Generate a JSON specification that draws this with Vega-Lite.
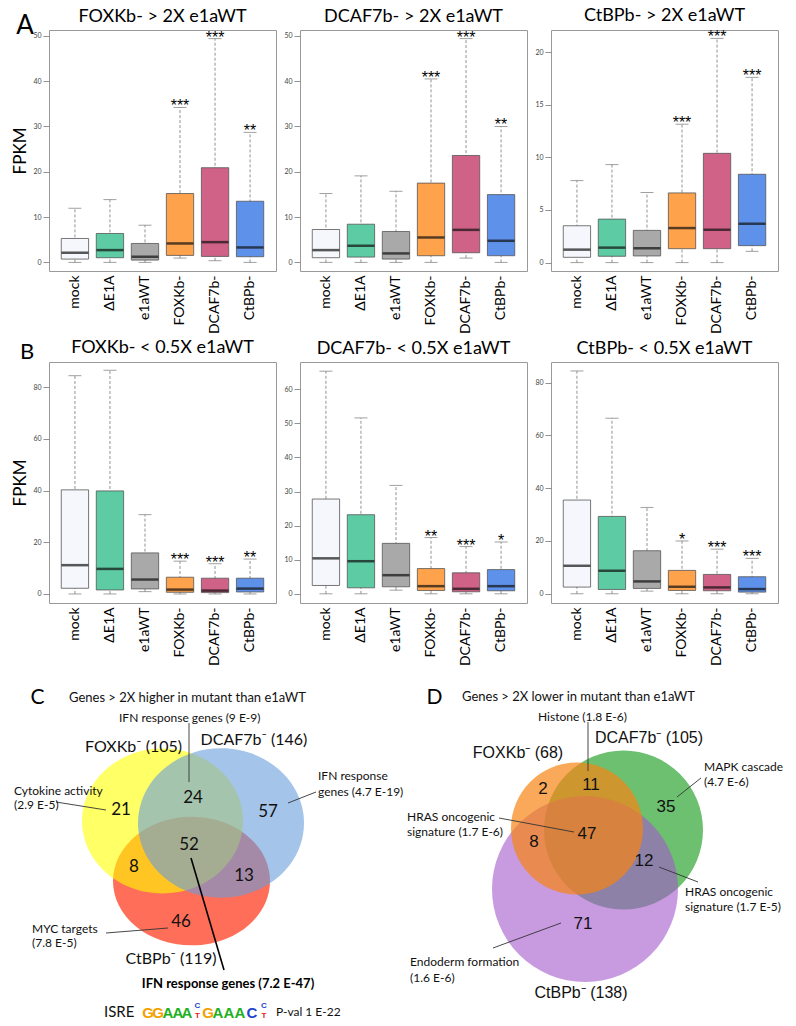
{
  "padding": {"left": 11, "top": 6, "right": 0, "bottom": 0},
  "spacing": 10,
  "config": {
    "font": "Lato",
    "view": {"stroke": "#999", "strokeWidth": 1},
    "title": {"font": "Lato", "fontSize": 18, "fontWeight": "normal", "color": "#000", "offset": 4},
    "axis": {"labelFont": "Lato", "titleFont": "Lato"},
    "text": {"font": "Lato"}
  },
  "datasets": {
    "box": [
      {"panel": "A1", "group": "mock", "lower": 0, "q1": 0.73, "median": 2.13, "q3": 5.28, "upper": 11.95, "sig": ""},
      {"panel": "A1", "group": "ΔE1A", "lower": 0, "q1": 1.03, "median": 2.71, "q3": 6.38, "upper": 13.86, "sig": ""},
      {"panel": "A1", "group": "e1aWT", "lower": 0, "q1": 0.51, "median": 1.25, "q3": 4.18, "upper": 8.21, "sig": ""},
      {"panel": "A1", "group": "FOXKb-", "lower": 0.95, "q1": 1.54, "median": 4.18, "q3": 15.2, "upper": 34.2, "sig": "***"},
      {"panel": "A1", "group": "DCAF7b-", "lower": 0.37, "q1": 1.32, "median": 4.47, "q3": 20.9, "upper": 49.4, "sig": "***"},
      {"panel": "A1", "group": "CtBPb-", "lower": 0, "q1": 1.25, "median": 3.3, "q3": 13.5, "upper": 28.7, "sig": "**"},
      {"panel": "A2", "group": "mock", "lower": 0, "q1": 1.03, "median": 2.71, "q3": 7.26, "upper": 15.2, "sig": ""},
      {"panel": "A2", "group": "ΔE1A", "lower": 0, "q1": 1.17, "median": 3.67, "q3": 8.43, "upper": 19.1, "sig": ""},
      {"panel": "A2", "group": "e1aWT", "lower": 0, "q1": 0.73, "median": 1.98, "q3": 6.82, "upper": 15.7, "sig": ""},
      {"panel": "A2", "group": "FOXKb-", "lower": 0, "q1": 1.47, "median": 5.5, "q3": 17.5, "upper": 40.5, "sig": "***"},
      {"panel": "A2", "group": "DCAF7b-", "lower": 0.95, "q1": 2.13, "median": 7.18, "q3": 23.6, "upper": 49.4, "sig": "***"},
      {"panel": "A2", "group": "CtBPb-", "lower": 0, "q1": 1.47, "median": 4.77, "q3": 14.96, "upper": 30.0, "sig": "**"},
      {"panel": "A3", "group": "mock", "lower": 0, "q1": 0.5, "median": 1.23, "q3": 3.5, "upper": 7.79, "sig": ""},
      {"panel": "A3", "group": "ΔE1A", "lower": 0, "q1": 0.6, "median": 1.42, "q3": 4.13, "upper": 9.31, "sig": ""},
      {"panel": "A3", "group": "e1aWT", "lower": 0, "q1": 0.63, "median": 1.36, "q3": 3.06, "upper": 6.66, "sig": ""},
      {"panel": "A3", "group": "FOXKb-", "lower": 0, "q1": 1.32, "median": 3.28, "q3": 6.62, "upper": 13.15, "sig": "***"},
      {"panel": "A3", "group": "DCAF7b-", "lower": 0, "q1": 1.32, "median": 3.12, "q3": 10.38, "upper": 21.3, "sig": "***"},
      {"panel": "A3", "group": "CtBPb-", "lower": 1.07, "q1": 1.61, "median": 3.69, "q3": 8.39, "upper": 17.6, "sig": "***"},
      {"panel": "B1", "group": "mock", "lower": 0, "q1": 2.2, "median": 11.15, "q3": 40.3, "upper": 84.5, "sig": ""},
      {"panel": "B1", "group": "ΔE1A", "lower": 0, "q1": 1.56, "median": 9.7, "q3": 39.9, "upper": 86.6, "sig": ""},
      {"panel": "B1", "group": "e1aWT", "lower": 0.9, "q1": 1.95, "median": 5.58, "q3": 15.9, "upper": 30.7, "sig": ""},
      {"panel": "B1", "group": "FOXKb-", "lower": 0, "q1": 0.65, "median": 1.69, "q3": 6.48, "upper": 12.7, "sig": "***"},
      {"panel": "B1", "group": "DCAF7b-", "lower": 0, "q1": 0.52, "median": 1.3, "q3": 6.1, "upper": 11.7, "sig": "***"},
      {"panel": "B1", "group": "CtBPb-", "lower": 0, "q1": 0.78, "median": 2.07, "q3": 6.1, "upper": 13.5, "sig": "**"},
      {"panel": "B2", "group": "mock", "lower": 0, "q1": 2.44, "median": 10.4, "q3": 27.8, "upper": 65.3, "sig": ""},
      {"panel": "B2", "group": "ΔE1A", "lower": 0, "q1": 1.76, "median": 9.56, "q3": 23.2, "upper": 51.6, "sig": ""},
      {"panel": "B2", "group": "e1aWT", "lower": 1.07, "q1": 2.05, "median": 5.46, "q3": 14.8, "upper": 31.8, "sig": ""},
      {"panel": "B2", "group": "FOXKb-", "lower": 0, "q1": 0.98, "median": 2.24, "q3": 7.4, "upper": 16.5, "sig": "**"},
      {"panel": "B2", "group": "DCAF7b-", "lower": 0, "q1": 0.59, "median": 1.46, "q3": 6.15, "upper": 13.85, "sig": "***"},
      {"panel": "B2", "group": "CtBPb-", "lower": 0, "q1": 0.88, "median": 2.24, "q3": 7.1, "upper": 15.2, "sig": "*"},
      {"panel": "B3", "group": "mock", "lower": 0, "q1": 2.53, "median": 10.6, "q3": 35.5, "upper": 84.4, "sig": ""},
      {"panel": "B3", "group": "ΔE1A", "lower": 0, "q1": 1.64, "median": 8.72, "q3": 29.3, "upper": 66.5, "sig": ""},
      {"panel": "B3", "group": "e1aWT", "lower": 1.01, "q1": 2.02, "median": 4.68, "q3": 16.3, "upper": 32.7, "sig": ""},
      {"panel": "B3", "group": "FOXKb-", "lower": 0, "q1": 1.26, "median": 2.65, "q3": 8.85, "upper": 20.0, "sig": "*"},
      {"panel": "B3", "group": "DCAF7b-", "lower": 0, "q1": 1.14, "median": 2.4, "q3": 7.33, "upper": 16.9, "sig": "***"},
      {"panel": "B3", "group": "CtBPb-", "lower": 0, "q1": 0.63, "median": 1.77, "q3": 6.45, "upper": 13.4, "sig": "***"}
    ]
  },
  "vconcat": [
    {
      "columns": 3,
      "bounds": "flush",
      "spacing": {"row": 91, "column": 24},
      "concat": [
        {
          "width": 227, "height": 241,
          "title": {"text": "FOXKb- > 2X e1aWT", "offset": -13},
          "data": {"name": "box"},
          "transform": [{"filter": "datum.panel === 'A1'"}],
          "encoding": {"x": {"field": "group", "type": "nominal", "sort": ["mock", "ΔE1A", "e1aWT", "FOXKb-", "DCAF7b-", "CtBPb-"], "scale": {"paddingInner": 0.22, "paddingOuter": 0.35}, "axis": {"title": null, "labelAngle": -90, "ticks": false, "domain": false, "labelFontSize": 14, "labelColor": "#000", "labelPadding": 4}}},
          "layer": [
            {"mark": {"type": "rule", "color": "#777", "strokeWidth": 0.8, "strokeDash": [3, 2]}, "encoding": {"y": {"field": "lower", "type": "quantitative", "scale": {"domain": [-1.9, 51.3], "nice": false, "zero": false}, "axis": {"title": "FPKM", "values": [0, 10, 20, 30, 40, 50], "domain": false, "grid": false, "tickSize": 6, "tickColor": "#777", "tickWidth": 0.8, "labelFontSize": 7, "labelColor": "#444", "labelPadding": 2, "titleFontSize": 17, "titleFontWeight": "normal", "titleColor": "#000", "titlePadding": 3}}, "y2": {"field": "upper"}}},
            {"mark": {"type": "tick", "color": "#777", "thickness": 1, "size": 13}, "encoding": {"y": {"field": "upper", "type": "quantitative"}}},
            {"mark": {"type": "tick", "color": "#777", "thickness": 1, "size": 13}, "encoding": {"y": {"field": "lower", "type": "quantitative"}}},
            {"mark": {"type": "bar", "stroke": "#555", "strokeWidth": 0.8}, "encoding": {"y": {"field": "q1", "type": "quantitative"}, "y2": {"field": "q3"}, "fill": {"field": "group", "type": "nominal", "scale": {"domain": ["mock", "ΔE1A", "e1aWT", "FOXKb-", "DCAF7b-", "CtBPb-"], "range": ["#f5f7fd", "#5dcba4", "#a9a9a9", "#ffa24c", "#d06287", "#5e91ea"]}, "legend": null}}},
            {"mark": {"type": "tick", "color": "#111", "thickness": 2.5, "size": 27}, "encoding": {"y": {"field": "median", "type": "quantitative"}}},
            {"mark": {"type": "text", "font": "Liberation Sans", "fontSize": 16, "baseline": "alphabetic", "dy": 4}, "encoding": {"y": {"field": "upper", "type": "quantitative"}, "text": {"field": "sig"}}},
            {"data": {"values": [{"t": "A"}]}, "mark": {"type": "text", "fontSize": 26, "baseline": "alphabetic", "align": "center"}, "encoding": {"x": {"value": -24}, "y": {"value": 4}, "text": {"field": "t"}}},
            {"data": {"values": [{"t": "B"}]}, "mark": {"type": "text", "fontSize": 22, "baseline": "alphabetic", "align": "center"}, "encoding": {"x": {"value": -22}, "y": {"value": 329}, "text": {"field": "t"}}}
          ]
        },
        {
          "width": 227, "height": 241,
          "title": "DCAF7b- > 2X e1aWT",
          "data": {"name": "box"},
          "transform": [{"filter": "datum.panel === 'A2'"}],
          "encoding": {"x": {"field": "group", "type": "nominal", "sort": ["mock", "ΔE1A", "e1aWT", "FOXKb-", "DCAF7b-", "CtBPb-"], "scale": {"paddingInner": 0.22, "paddingOuter": 0.35}, "axis": {"title": null, "labelAngle": -90, "ticks": false, "domain": false, "labelFontSize": 14, "labelColor": "#000", "labelPadding": 4}}},
          "layer": [
            {"mark": {"type": "rule", "color": "#777", "strokeWidth": 0.8, "strokeDash": [3, 2]}, "encoding": {"y": {"field": "lower", "type": "quantitative", "scale": {"domain": [-1.9, 51.3], "nice": false, "zero": false}, "axis": {"title": null, "values": [0, 10, 20, 30, 40, 50], "domain": false, "grid": false, "tickSize": 6, "tickColor": "#777", "tickWidth": 0.8, "labelFontSize": 7, "labelColor": "#444", "labelPadding": 2}}, "y2": {"field": "upper"}}},
            {"mark": {"type": "tick", "color": "#777", "thickness": 1, "size": 13}, "encoding": {"y": {"field": "upper", "type": "quantitative"}}},
            {"mark": {"type": "tick", "color": "#777", "thickness": 1, "size": 13}, "encoding": {"y": {"field": "lower", "type": "quantitative"}}},
            {"mark": {"type": "bar", "stroke": "#555", "strokeWidth": 0.8}, "encoding": {"y": {"field": "q1", "type": "quantitative"}, "y2": {"field": "q3"}, "fill": {"field": "group", "type": "nominal", "legend": null}}},
            {"mark": {"type": "tick", "color": "#111", "thickness": 2.5, "size": 27}, "encoding": {"y": {"field": "median", "type": "quantitative"}}},
            {"mark": {"type": "text", "font": "Liberation Sans", "fontSize": 16, "baseline": "alphabetic", "dy": 4}, "encoding": {"y": {"field": "upper", "type": "quantitative"}, "text": {"field": "sig"}}}
          ]
        },
        {
          "width": 227, "height": 241,
          "title": "CtBPb- > 2X e1aWT",
          "data": {"name": "box"},
          "transform": [{"filter": "datum.panel === 'A3'"}],
          "encoding": {"x": {"field": "group", "type": "nominal", "sort": ["mock", "ΔE1A", "e1aWT", "FOXKb-", "DCAF7b-", "CtBPb-"], "scale": {"paddingInner": 0.22, "paddingOuter": 0.35}, "axis": {"title": null, "labelAngle": -90, "ticks": false, "domain": false, "labelFontSize": 14, "labelColor": "#000", "labelPadding": 4}}},
          "layer": [
            {"mark": {"type": "rule", "color": "#777", "strokeWidth": 0.8, "strokeDash": [3, 2]}, "encoding": {"y": {"field": "lower", "type": "quantitative", "scale": {"domain": [-0.8, 22.1], "nice": false, "zero": false}, "axis": {"title": null, "values": [0, 5, 10, 15, 20], "domain": false, "grid": false, "tickSize": 6, "tickColor": "#777", "tickWidth": 0.8, "labelFontSize": 7, "labelColor": "#444", "labelPadding": 2}}, "y2": {"field": "upper"}}},
            {"mark": {"type": "tick", "color": "#777", "thickness": 1, "size": 13}, "encoding": {"y": {"field": "upper", "type": "quantitative"}}},
            {"mark": {"type": "tick", "color": "#777", "thickness": 1, "size": 13}, "encoding": {"y": {"field": "lower", "type": "quantitative"}}},
            {"mark": {"type": "bar", "stroke": "#555", "strokeWidth": 0.8}, "encoding": {"y": {"field": "q1", "type": "quantitative"}, "y2": {"field": "q3"}, "fill": {"field": "group", "type": "nominal", "legend": null}}},
            {"mark": {"type": "tick", "color": "#111", "thickness": 2.5, "size": 27}, "encoding": {"y": {"field": "median", "type": "quantitative"}}},
            {"mark": {"type": "text", "font": "Liberation Sans", "fontSize": 16, "baseline": "alphabetic", "dy": 4}, "encoding": {"y": {"field": "upper", "type": "quantitative"}, "text": {"field": "sig"}}}
          ]
        },
        {
          "width": 227, "height": 241,
          "title": "FOXKb- < 0.5X e1aWT",
          "data": {"name": "box"},
          "transform": [{"filter": "datum.panel === 'B1'"}],
          "encoding": {"x": {"field": "group", "type": "nominal", "sort": ["mock", "ΔE1A", "e1aWT", "FOXKb-", "DCAF7b-", "CtBPb-"], "scale": {"paddingInner": 0.22, "paddingOuter": 0.35}, "axis": {"title": null, "labelAngle": -90, "ticks": false, "domain": false, "labelFontSize": 14, "labelColor": "#000", "labelPadding": 4}}},
          "layer": [
            {"mark": {"type": "rule", "color": "#777", "strokeWidth": 0.8, "strokeDash": [3, 2]}, "encoding": {"y": {"field": "lower", "type": "quantitative", "scale": {"domain": [-3.5, 89.8], "nice": false, "zero": false}, "axis": {"title": "FPKM", "values": [0, 20, 40, 60, 80], "domain": false, "grid": false, "tickSize": 6, "tickColor": "#777", "tickWidth": 0.8, "labelFontSize": 7, "labelColor": "#444", "labelPadding": 2, "titleFontSize": 17, "titleFontWeight": "normal", "titleColor": "#000", "titlePadding": 3}}, "y2": {"field": "upper"}}},
            {"mark": {"type": "tick", "color": "#777", "thickness": 1, "size": 13}, "encoding": {"y": {"field": "upper", "type": "quantitative"}}},
            {"mark": {"type": "tick", "color": "#777", "thickness": 1, "size": 13}, "encoding": {"y": {"field": "lower", "type": "quantitative"}}},
            {"mark": {"type": "bar", "stroke": "#555", "strokeWidth": 0.8}, "encoding": {"y": {"field": "q1", "type": "quantitative"}, "y2": {"field": "q3"}, "fill": {"field": "group", "type": "nominal", "legend": null}}},
            {"mark": {"type": "tick", "color": "#111", "thickness": 2.5, "size": 27}, "encoding": {"y": {"field": "median", "type": "quantitative"}}},
            {"mark": {"type": "text", "font": "Liberation Sans", "fontSize": 16, "baseline": "alphabetic", "dy": 4}, "encoding": {"y": {"field": "upper", "type": "quantitative"}, "text": {"field": "sig"}}}
          ]
        },
        {
          "width": 227, "height": 241,
          "title": "DCAF7b- < 0.5X e1aWT",
          "data": {"name": "box"},
          "transform": [{"filter": "datum.panel === 'B2'"}],
          "encoding": {"x": {"field": "group", "type": "nominal", "sort": ["mock", "ΔE1A", "e1aWT", "FOXKb-", "DCAF7b-", "CtBPb-"], "scale": {"paddingInner": 0.22, "paddingOuter": 0.35}, "axis": {"title": null, "labelAngle": -90, "ticks": false, "domain": false, "labelFontSize": 14, "labelColor": "#000", "labelPadding": 4}}},
          "layer": [
            {"mark": {"type": "rule", "color": "#777", "strokeWidth": 0.8, "strokeDash": [3, 2]}, "encoding": {"y": {"field": "lower", "type": "quantitative", "scale": {"domain": [-2.7, 68.0], "nice": false, "zero": false}, "axis": {"title": null, "values": [0, 10, 20, 30, 40, 50, 60], "domain": false, "grid": false, "tickSize": 6, "tickColor": "#777", "tickWidth": 0.8, "labelFontSize": 7, "labelColor": "#444", "labelPadding": 2}}, "y2": {"field": "upper"}}},
            {"mark": {"type": "tick", "color": "#777", "thickness": 1, "size": 13}, "encoding": {"y": {"field": "upper", "type": "quantitative"}}},
            {"mark": {"type": "tick", "color": "#777", "thickness": 1, "size": 13}, "encoding": {"y": {"field": "lower", "type": "quantitative"}}},
            {"mark": {"type": "bar", "stroke": "#555", "strokeWidth": 0.8}, "encoding": {"y": {"field": "q1", "type": "quantitative"}, "y2": {"field": "q3"}, "fill": {"field": "group", "type": "nominal", "legend": null}}},
            {"mark": {"type": "tick", "color": "#111", "thickness": 2.5, "size": 27}, "encoding": {"y": {"field": "median", "type": "quantitative"}}},
            {"mark": {"type": "text", "font": "Liberation Sans", "fontSize": 16, "baseline": "alphabetic", "dy": 4}, "encoding": {"y": {"field": "upper", "type": "quantitative"}, "text": {"field": "sig"}}}
          ]
        },
        {
          "width": 227, "height": 241,
          "title": "CtBPb- < 0.5X e1aWT",
          "data": {"name": "box"},
          "transform": [{"filter": "datum.panel === 'B3'"}],
          "encoding": {"x": {"field": "group", "type": "nominal", "sort": ["mock", "ΔE1A", "e1aWT", "FOXKb-", "DCAF7b-", "CtBPb-"], "scale": {"paddingInner": 0.22, "paddingOuter": 0.35}, "axis": {"title": null, "labelAngle": -90, "ticks": false, "domain": false, "labelFontSize": 14, "labelColor": "#000", "labelPadding": 4}}},
          "layer": [
            {"mark": {"type": "rule", "color": "#777", "strokeWidth": 0.8, "strokeDash": [3, 2]}, "encoding": {"y": {"field": "lower", "type": "quantitative", "scale": {"domain": [-3.5, 87.8], "nice": false, "zero": false}, "axis": {"title": null, "values": [0, 20, 40, 60, 80], "domain": false, "grid": false, "tickSize": 6, "tickColor": "#777", "tickWidth": 0.8, "labelFontSize": 7, "labelColor": "#444", "labelPadding": 2}}, "y2": {"field": "upper"}}},
            {"mark": {"type": "tick", "color": "#777", "thickness": 1, "size": 13}, "encoding": {"y": {"field": "upper", "type": "quantitative"}}},
            {"mark": {"type": "tick", "color": "#777", "thickness": 1, "size": 13}, "encoding": {"y": {"field": "lower", "type": "quantitative"}}},
            {"mark": {"type": "bar", "stroke": "#555", "strokeWidth": 0.8}, "encoding": {"y": {"field": "q1", "type": "quantitative"}, "y2": {"field": "q3"}, "fill": {"field": "group", "type": "nominal", "legend": null}}},
            {"mark": {"type": "tick", "color": "#111", "thickness": 2.5, "size": 27}, "encoding": {"y": {"field": "median", "type": "quantitative"}}},
            {"mark": {"type": "text", "font": "Liberation Sans", "fontSize": 16, "baseline": "alphabetic", "dy": 4}, "encoding": {"y": {"field": "upper", "type": "quantitative"}, "text": {"field": "sig"}}}
          ]
        }
      ]
    },
    {
      "bounds": "flush",
      "spacing": 0,
      "hconcat": [
        {
          "width": 352, "height": 354,
          "view": {"stroke": null},
          "encoding": {
            "x": {"field": "x", "type": "quantitative", "scale": {"domain": [48, 400], "nice": false, "zero": false}, "axis": null},
            "y": {"field": "y", "type": "quantitative", "scale": {"domain": [672, 1026], "nice": false, "zero": false, "reverse": true}, "axis": null}
          },
          "layer": [
            {"data": {"values": [{"set": "CtBPb-", "x": 190.5, "y": 876}]}, "mark": {"type": "point", "filled": true, "shape": "M 1 0 C 1 0.453 0.552 0.82 0 0.82 C -0.552 0.82 -1 0.453 -1 0 C -1 -0.453 -0.552 -0.82 0 -0.82 C 0.552 -0.82 1 -0.453 1 0 Z", "size": 24649, "color": "#ff6e58", "opacity": 1, "strokeWidth": 0}},
            {"data": {"values": [{"set": "FOXKb-", "x": 161.5, "y": 816}]}, "mark": {"type": "point", "filled": true, "shape": "M 1 0 C 1 0.497 0.552 0.9 0 0.9 C -0.552 0.9 -1 0.497 -1 0 C -1 -0.497 -0.552 -0.9 0 -0.9 C 0.552 -0.9 1 -0.497 1 0 Z", "size": 25921, "color": "#ffff00", "opacity": 0.6, "strokeWidth": 0}},
            {"data": {"values": [{"set": "DCAF7b-", "x": 220, "y": 818}]}, "mark": {"type": "point", "filled": true, "shape": "M 1 0 C 1 0.497 0.552 0.9 0 0.9 C -0.552 0.9 -1 0.497 -1 0 C -1 -0.497 -0.552 -0.9 0 -0.9 C 0.552 -0.9 1 -0.497 1 0 Z", "size": 27556, "color": "#679ddc", "opacity": 0.6, "strokeWidth": 0}},
            {"data": {"values": [
              {"x": 188, "y": 718, "x2": 188, "y2": 777},
              {"x": 55, "y": 797, "x2": 105, "y2": 805},
              {"x": 315, "y": 787, "x2": 287, "y2": 798},
              {"x": 105, "y": 928, "x2": 167, "y2": 923}
            ]}, "mark": {"type": "rule", "color": "#333", "strokeWidth": 0.9}, "encoding": {"x2": {"field": "x2"}, "y2": {"field": "y2"}}},
            {"data": {"values": [{"x": 190, "y": 853, "x2": 223, "y2": 965}]}, "mark": {"type": "rule", "color": "#000", "strokeWidth": 1.6}, "encoding": {"x2": {"field": "x2"}, "y2": {"field": "y2"}}},
            {"data": {"values": [
              {"n": "21", "x": 120, "y": 805}, {"n": "24", "x": 192, "y": 793}, {"n": "57", "x": 267, "y": 807},
              {"n": "52", "x": 188, "y": 840}, {"n": "8", "x": 133, "y": 862}, {"n": "13", "x": 243, "y": 871}, {"n": "46", "x": 180, "y": 917}
            ]}, "mark": {"type": "text", "fontSize": 17, "align": "center", "baseline": "middle", "color": "#111"}, "encoding": {"text": {"field": "n"}}},
            {"data": {"values": [
              {"t": "FOXKb⁻ (105)", "x": 132.5, "y": 742}, {"t": "DCAF7b⁻ (146)", "x": 253, "y": 735}, {"t": "CtBPb⁻ (119)", "x": 170, "y": 954}
            ]}, "mark": {"type": "text", "fontSize": 16, "align": "center", "baseline": "middle", "color": "#111"}, "encoding": {"text": {"field": "t"}}},
            {"data": {"values": [
              {"t": "IFN response genes (9 E-9)", "x": 118, "y": 713},
              {"t": "Cytokine activity", "x": 13, "y": 786},
              {"t": "(2.9 E-5)", "x": 13, "y": 800},
              {"t": "IFN response", "x": 317, "y": 771},
              {"t": "genes (4.7 E-19)", "x": 317, "y": 787},
              {"t": "MYC targets", "x": 31, "y": 924},
              {"t": "(7.8 E-5)", "x": 31, "y": 938},
              {"t": "P-val 1 E-22", "x": 275, "y": 1007}
            ]}, "mark": {"type": "text", "fontSize": 12, "align": "left", "baseline": "middle", "color": "#111"}, "encoding": {"text": {"field": "t"}}},
            {"data": {"values": [{"t": "Genes > 2X higher in mutant than e1aWT", "x": 68, "y": 693}]}, "mark": {"type": "text", "fontSize": 13, "align": "left", "baseline": "middle", "color": "#111"}, "encoding": {"text": {"field": "t"}}},
            {"data": {"values": [{"t": "C", "x": 36.5, "y": 693}]}, "mark": {"type": "text", "fontSize": 21, "align": "center", "baseline": "middle", "color": "#000"}, "encoding": {"text": {"field": "t"}}},
            {"data": {"values": [{"t": "IFN response genes (7.2 E-47)", "x": 227, "y": 979}]}, "mark": {"type": "text", "fontSize": 13, "fontWeight": "bold", "align": "center", "baseline": "middle", "color": "#000"}, "encoding": {"text": {"field": "t"}}},
            {"data": {"values": [{"t": "ISRE", "x": 103, "y": 1007}]}, "mark": {"type": "text", "fontSize": 15, "align": "left", "baseline": "middle", "color": "#111"}, "encoding": {"text": {"field": "t"}}},
            {"data": {"values": [
              {"b": "G", "x": 147, "y": 1013}, {"b": "G", "x": 157, "y": 1013}, {"b": "A", "x": 167, "y": 1013}, {"b": "A", "x": 177, "y": 1013}, {"b": "A", "x": 186, "y": 1013},
              {"b": "G", "x": 207, "y": 1013}, {"b": "A", "x": 217, "y": 1013}, {"b": "A", "x": 228, "y": 1013}, {"b": "A", "x": 239, "y": 1013}, {"b": "C", "x": 251, "y": 1013}
            ]}, "mark": {"type": "text", "fontSize": 15, "fontWeight": "bold", "font": "Liberation Sans", "align": "center", "baseline": "alphabetic"}, "encoding": {"text": {"field": "b"}, "color": {"field": "b", "type": "nominal", "scale": {"domain": ["A", "C", "G", "T"], "range": ["#22b022", "#2244d0", "#f2a200", "#e02020"]}, "legend": null}}},
            {"data": {"values": [
              {"b": "C", "x": 196.5, "y": 1003}, {"b": "T", "x": 196.5, "y": 1013},
              {"b": "C", "x": 263, "y": 1003}, {"b": "T", "x": 263, "y": 1013}
            ]}, "mark": {"type": "text", "fontSize": 8, "fontWeight": "bold", "font": "Liberation Sans", "align": "center", "baseline": "alphabetic"}, "encoding": {"text": {"field": "b"}, "color": {"field": "b", "type": "nominal", "legend": null}}}
          ]
        },
        {
          "width": 396, "height": 354,
          "view": {"stroke": null},
          "encoding": {
            "x": {"field": "x", "type": "quantitative", "scale": {"domain": [400, 796], "nice": false, "zero": false}, "axis": null},
            "y": {"field": "y", "type": "quantitative", "scale": {"domain": [672, 1026], "nice": false, "zero": false, "reverse": true}, "axis": null}
          },
          "layer": [
            {"data": {"values": [{"set": "DCAF7b-", "x": 622.5, "y": 825}]}, "mark": {"type": "point", "filled": true, "shape": "circle", "size": 25281, "color": "#6cc070", "opacity": 1, "strokeWidth": 0}},
            {"data": {"values": [{"set": "CtBPb-", "x": 584, "y": 884}]}, "mark": {"type": "point", "filled": true, "shape": "circle", "size": 34596, "color": "#a357cb", "opacity": 0.6, "strokeWidth": 0}},
            {"data": {"values": [{"set": "FOXKb-", "x": 576, "y": 823.5}]}, "mark": {"type": "point", "filled": true, "shape": "circle", "size": 17424, "color": "#f68413", "opacity": 0.7, "strokeWidth": 0}},
            {"data": {"values": [
              {"x": 587, "y": 717, "x2": 587, "y2": 766},
              {"x": 700, "y": 773, "x2": 676, "y2": 792},
              {"x": 498, "y": 813, "x2": 573, "y2": 827},
              {"x": 658, "y": 862, "x2": 697, "y2": 877},
              {"x": 492, "y": 943, "x2": 560, "y2": 918}
            ]}, "mark": {"type": "rule", "color": "#333", "strokeWidth": 0.9}, "encoding": {"x2": {"field": "x2"}, "y2": {"field": "y2"}}},
            {"data": {"values": [
              {"n": "2", "x": 542, "y": 784}, {"n": "11", "x": 590, "y": 780}, {"n": "35", "x": 665, "y": 802},
              {"n": "47", "x": 586, "y": 829}, {"n": "8", "x": 533, "y": 837}, {"n": "12", "x": 643, "y": 856}, {"n": "71", "x": 582, "y": 919}
            ]}, "mark": {"type": "text", "fontSize": 17, "font": "Liberation Sans", "align": "center", "baseline": "middle", "color": "#111"}, "encoding": {"text": {"field": "n"}}},
            {"data": {"values": [
              {"t": "DCAF7b⁻ (105)", "x": 648, "y": 733}, {"t": "FOXKb⁻ (68)", "x": 517, "y": 748}, {"t": "CtBPb⁻ (138)", "x": 580, "y": 988}
            ]}, "mark": {"type": "text", "fontSize": 16, "font": "Liberation Sans", "align": "center", "baseline": "middle", "color": "#111"}, "encoding": {"text": {"field": "t"}}},
            {"data": {"values": [
              {"t": "Histone (1.8 E-6)", "x": 537, "y": 712},
              {"t": "MAPK cascade", "x": 703, "y": 762},
              {"t": "(4.7 E-6)", "x": 703, "y": 777},
              {"t": "HRAS oncogenic", "x": 406, "y": 812},
              {"t": "signature (1.7 E-6)", "x": 406, "y": 827},
              {"t": "HRAS oncogenic", "x": 684, "y": 887},
              {"t": "signature (1.7 E-5)", "x": 684, "y": 902},
              {"t": "Endoderm formation", "x": 409, "y": 957},
              {"t": "(1.6 E-6)", "x": 409, "y": 973}
            ]}, "mark": {"type": "text", "fontSize": 12, "align": "left", "baseline": "middle", "color": "#111"}, "encoding": {"text": {"field": "t"}}},
            {"data": {"values": [{"t": "Genes > 2X lower in mutant than e1aWT", "x": 461, "y": 692}]}, "mark": {"type": "text", "fontSize": 13, "align": "left", "baseline": "middle", "color": "#111"}, "encoding": {"text": {"field": "t"}}},
            {"data": {"values": [{"t": "D", "x": 433.5, "y": 693}]}, "mark": {"type": "text", "fontSize": 21, "align": "center", "baseline": "middle", "color": "#000"}, "encoding": {"text": {"field": "t"}}}
          ]
        }
      ]
    }
  ]
}
